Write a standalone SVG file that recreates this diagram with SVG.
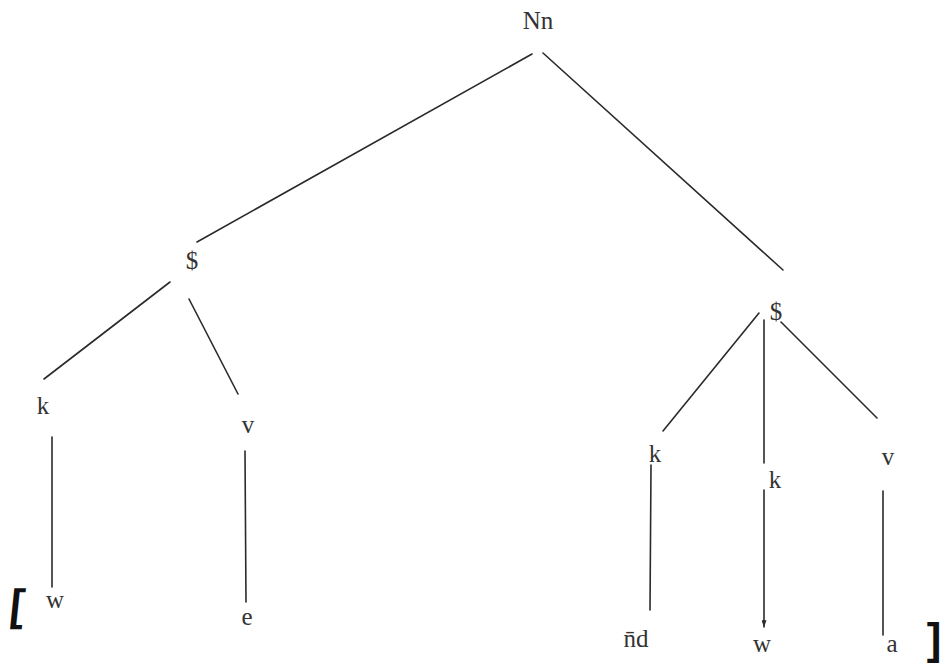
<svg xmlns="http://www.w3.org/2000/svg" width="943" height="671" viewBox="0 0 943 671">
<style>
text{font-family:"Liberation Serif","Times New Roman",serif;font-size:25px;fill:#333;text-anchor:middle}
.e{stroke:#2a2a2a;stroke-width:1.6;fill:none;stroke-linecap:round}
.br{font-family:"Liberation Sans",Arial,sans-serif;font-weight:bold;font-size:44px;fill:#111}
</style>
<defs>
<marker id="ah" viewBox="0 0 8 6" refX="8" refY="3" markerWidth="8" markerHeight="5" markerUnits="userSpaceOnUse" orient="auto">
<path d="M0,0 L8,3 L0,6 Z" fill="#2a2a2a"/>
</marker>
</defs>
<rect width="943" height="671" fill="#fff"/>
<g id="edges">
<line class="e" x1="532" y1="54" x2="197" y2="242"/>
<line class="e" x1="543" y1="53" x2="783" y2="270"/>
<line class="e" x1="170" y1="282" x2="44" y2="379"/>
<line class="e" x1="189" y1="299" x2="238" y2="394"/>
<line class="e" x1="52" y1="437" x2="52" y2="587"/>
<line class="e" x1="245" y1="451" x2="246" y2="602"/>
<line class="e" x1="759" y1="313" x2="663" y2="431"/>
<line class="e" x1="764" y1="320" x2="764" y2="463"/>
<line class="e" x1="781" y1="322" x2="877" y2="418"/>
<line class="e" x1="651" y1="465" x2="650" y2="610"/>
<line class="e" x1="764" y1="490" x2="764" y2="627" marker-end="url(#ah)"/>
<line class="e" x1="883" y1="491" x2="883" y2="635"/>
</g>
<g id="n-root"><text x="538" y="29">Nn</text></g>
<g id="n-s1"><text x="192" y="269">$</text></g>
<g id="n-k1"><text x="43" y="414">k</text></g>
<g id="n-v1"><text x="248" y="433">v</text></g>
<g id="n-w1"><text x="55" y="608">w</text></g>
<g id="n-e"><text x="247" y="625">e</text></g>
<g id="n-s2"><text x="776" y="320">$</text></g>
<g id="n-k2"><text x="655" y="462">k</text></g>
<g id="n-k3"><text x="775" y="488">k</text></g>
<g id="n-v2"><text x="888" y="465">v</text></g>
<g id="n-nd"><text x="636" y="647">n̄d</text></g>
<g id="n-w2"><text x="762" y="652">w</text></g>
<g id="n-a"><text x="892" y="652">a</text></g>
<g id="brackets">
<text class="br" x="16" y="620" transform="skewX(-6) translate(65,0)">[</text>
<text class="br" x="934" y="654">]</text>
</g>
</svg>
